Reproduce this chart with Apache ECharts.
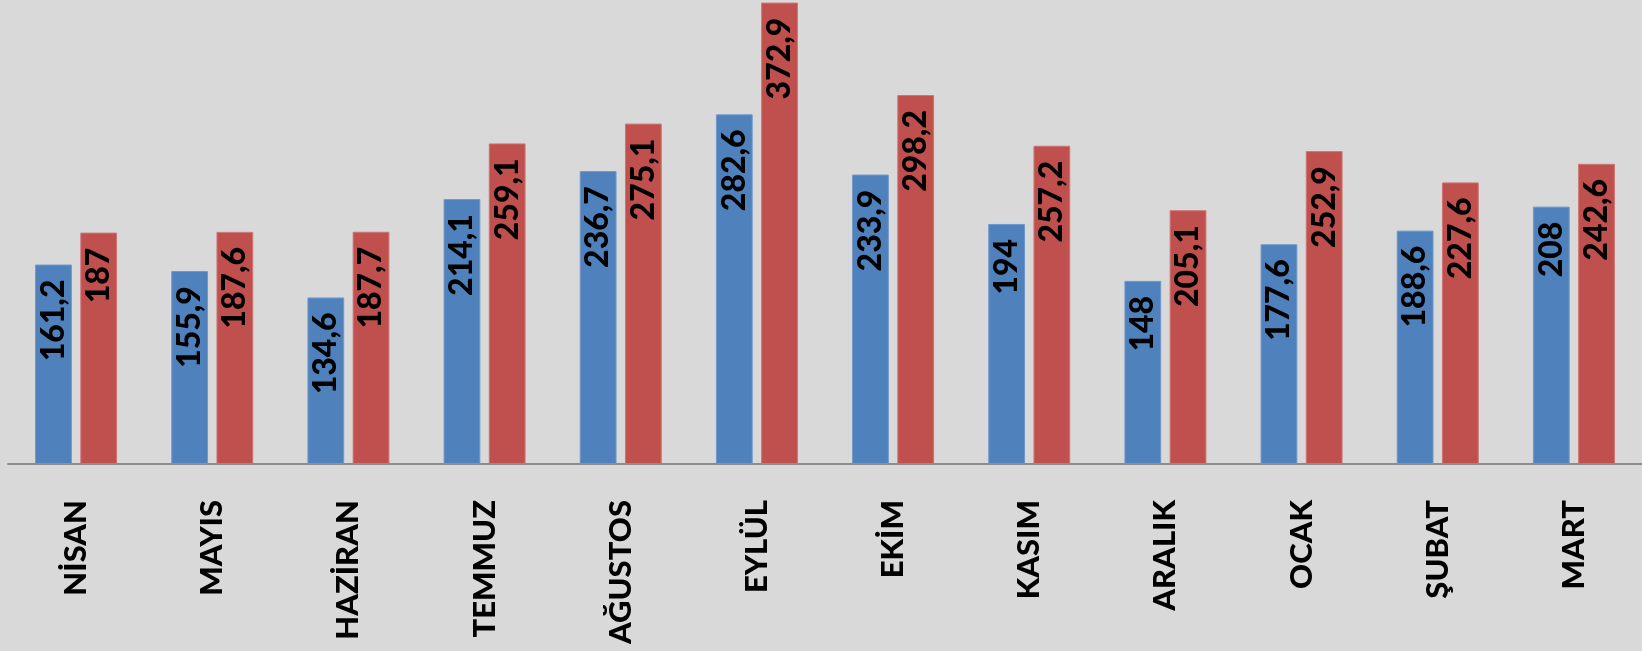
<!DOCTYPE html>
<html>
<head>
<meta charset="utf-8">
<script src="https://cdn.jsdelivr.net/npm/echarts@6/dist/echarts.min.js"></script>
<style>
html,body{margin:0;padding:0;background:#d9d9d9;}
#chart{width:1642px;height:651px;}
</style>
</head>
<body>
<div id="chart"></div>
<script>
const categories = ['NİSAN','MAYIS','HAZİRAN','TEMMUZ','AĞUSTOS','EYLÜL','EKİM','KASIM','ARALIK','OCAK','ŞUBAT','MART'];
const seriesBlue = [161.2,155.9,134.6,214.1,236.7,282.6,233.9,194,148,177.6,188.6,208];
const seriesRed = [187,187.6,187.7,259.1,275.1,372.9,298.2,257.2,205.1,252.9,227.6,242.6];

const FONT = 'Lato';
const labelCfg = {
  show: true,
  position: 'insideTop',
  rotate: 90,
  align: 'right',
  verticalAlign: 'middle',
  distance: 15,
  color: '#000',
  fontFamily: FONT,
  fontWeight: 900,
  fontSize: 32,
  formatter: p => String(p.value).replace('.', ',')
};

const chart = echarts.init(document.getElementById('chart'));
chart.setOption({
  backgroundColor: '#d9d9d9',
  animation: false,
  grid: {left: 8, right: 0, top: 0, bottom: 187},
  xAxis: {
    type: 'category',
    data: categories,
    axisLine: {lineStyle: {color: '#8c8c8c', width: 2}},
    axisTick: {show: false},
    axisLabel: {rotate: 90, margin: 36, color: '#000', fontFamily: FONT, fontWeight: 900, fontSize: 31, interval: 0}
  },
  yAxis: {type: 'value', min: 0, max: 375, show: false, splitLine: {show: false}},
  series: [
    {type: 'bar', data: seriesBlue, barWidth: '27%', barGap: '23%',
     itemStyle: {color: '#4f81bd', borderColor: '#6f97c9', borderWidth: 1}, label: labelCfg},
    {type: 'bar', data: seriesRed, barWidth: '27%', barGap: '23%',
     itemStyle: {color: '#c0504d', borderColor: '#cc7572', borderWidth: 1}, label: labelCfg}
  ]
});
</script>
</body>
</html>
